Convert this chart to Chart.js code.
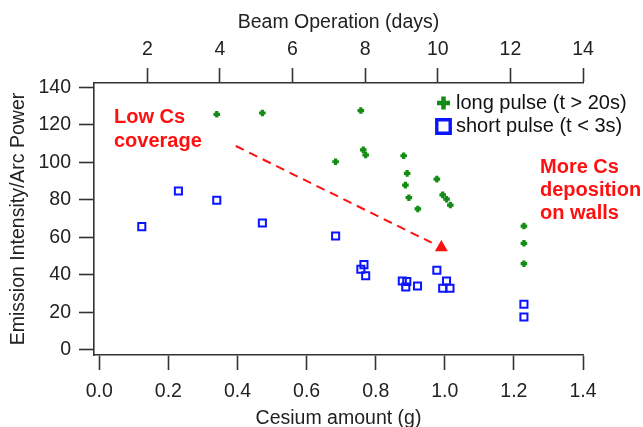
<!DOCTYPE html>
<html>
<head>
<meta charset="utf-8">
<script src="https://cdn.jsdelivr.net/npm/chart.js@4/dist/chart.umd.min.js"></script>
<style>
  html, body { margin: 0; padding: 0; background: #fff; }
  #chart { display: block; }
</style>
</head>
<body>
<canvas id="chart" width="643" height="427"></canvas>
<script>
// cesium amount (g) vs emission intensity / arc power
const long_x = [0.340, 0.472, 0.757, 0.684, 0.764, 0.771, 0.881, 0.891, 0.886, 0.896, 0.922, 0.977, 0.994, 1.005, 1.016, 1.229, 1.229, 1.229];
const long_y = [125.7, 126.4, 127.7, 100.4, 106.7, 104.0, 103.6, 94.2, 87.9, 81.2, 75.2, 91.1, 82.7, 80.4, 77.3, 66.1, 56.9, 46.0];

const short_x = [0.123, 0.229, 0.340, 0.472, 0.684, 0.766, 0.757, 0.771, 0.877, 0.890, 0.887, 0.921, 0.977, 1.005, 0.994, 1.015, 1.229, 1.229];
const short_y = [65.8, 84.8, 79.9, 67.7, 60.8, 45.5, 43.0, 39.6, 36.8, 36.5, 33.6, 34.1, 42.5, 36.8, 32.9, 32.9, 24.4, 17.6];

// dashed trend arrow
const arrow_x = [0.395, 0.962];
const arrow_y = [108.8, 57.2];
const arrow_head = [0.990, 54.7];

const x_ticks = [0.0, 0.2, 0.4, 0.6, 0.8, 1.0, 1.2, 1.4];
const day_ticks = [2, 4, 6, 8, 10, 12, 14];
const y_ticks = [0, 20, 40, 60, 80, 100, 120, 140];

const legend_labels = ["long pulse (t > 20s)", "short pulse (t < 3s)"];
const note_low = ["Low Cs", "coverage"];
const note_more = ["More Cs", "deposition", "on walls"];

const FONT = "'Liberation Sans', Arial, sans-serif";
const GREEN = "#138c13";
const BLUE = "#0a14ff";
const RED = "#ff1010";
const AXIS = "#333";

function pts(xs, ys) {
  return xs.map((x, i) => ({ x: x, y: ys[i] }));
}

function setTicks(list) {
  return function (scale) {
    scale.ticks = list.map((v) => ({ value: v }));
  };
}

const axisGrid = {
  drawOnChartArea: false,
  drawTicks: true,
  tickLength: 15,
  tickColor: AXIS,
  tickWidth: 1.6,
};
const axisBorder = { display: true, color: AXIS, width: 1.6 };
const tickFont = { family: FONT, size: 19.5 };

const notes = {
  id: "notes",
  afterDatasetsDraw(chart) {
    const ctx = chart.ctx;
    ctx.save();

    // red notes
    ctx.fillStyle = RED;
    ctx.font = "bold 20px " + FONT;
    ctx.textBaseline = "middle";
    ctx.textAlign = "left";
    note_low.forEach((t, i) => ctx.fillText(t, 114, 117 + i * 24));
    note_more.forEach((t, i) => ctx.fillText(t, 540, 167 + i * 23.3));

    // legend, drawn by hand so it can sit inside the plot
    const items = [
      { style: "cross", stroke: GREEN, fill: GREEN, r: 6.5, w: 4.5, y: 103 },
      { style: "rect", stroke: BLUE, fill: "#fff", r: 9.5, w: 3.4, y: 126.5 },
    ];
    ctx.font = "20px " + FONT;
    items.forEach((it, i) => {
      ctx.strokeStyle = it.stroke;
      ctx.fillStyle = it.fill;
      ctx.lineWidth = it.w;
      Chart.helpers.drawPoint(ctx, {
        pointStyle: it.style,
        radius: it.r,
        borderWidth: it.w,
        rotation: 0,
      }, 443.5, it.y);
      ctx.fillStyle = "#111";
      ctx.fillText(legend_labels[i], 456, it.y);
    });
    ctx.restore();
  },
};

new Chart(document.getElementById("chart"), {
  type: "scatter",
  data: {
    datasets: [
      {
        label: legend_labels[0],
        data: pts(long_x, long_y),
        pointStyle: "cross",
        pointRadius: 3.3,
        pointBorderWidth: 3.2,
        borderColor: GREEN,
        backgroundColor: GREEN,
      },
      {
        label: legend_labels[1],
        data: pts(short_x, short_y),
        pointStyle: "rect",
        pointRadius: 5,
        pointBorderWidth: 2,
        borderColor: BLUE,
        backgroundColor: "rgba(0,0,0,0)",
      },
      {
        type: "line",
        label: "trend",
        data: pts(arrow_x, arrow_y),
        borderColor: RED,
        borderWidth: 2,
        borderDash: [9, 6],
        pointRadius: 0,
      },
      {
        label: "head",
        data: [{ x: arrow_head[0], y: arrow_head[1] }],
        pointStyle: "triangle",
        pointRadius: 7.5,
        pointBorderWidth: 0,
        borderColor: RED,
        backgroundColor: RED,
      },
    ],
  },
  options: {
    responsive: false,
    devicePixelRatio: 1,
    animation: false,
    layout: { padding: { left: 0, right: 60, top: 0, bottom: 0 } },
    plugins: {
      legend: { display: false },
      tooltip: { enabled: false },
    },
    scales: {
      x: {
        type: "linear",
        position: "bottom",
        min: -0.0153,
        max: 1.4,
        afterBuildTicks: setTicks(x_ticks),
        afterFit: (s) => { s.height = 72; },
        grid: axisGrid,
        border: axisBorder,
        ticks: {
          font: tickFont,
          color: "#222",
          padding: 10,
          maxRotation: 0,
          callback: (v) => v.toFixed(1),
        },
        title: {
          display: true,
          text: "Cesium amount (g)",
          font: tickFont,
          color: "#222",
          padding: { top: 0, bottom: -3 },
        },
      },
      x2: {
        type: "linear",
        position: "top",
        min: 0.532,
        max: 14,
        afterBuildTicks: setTicks(day_ticks),
        afterFit: (s) => { s.height = 83; },
        grid: axisGrid,
        border: axisBorder,
        ticks: {
          font: tickFont,
          color: "#222",
          padding: 7,
          maxRotation: 0,
        },
        title: {
          display: true,
          text: "Beam Operation (days)",
          font: tickFont,
          color: "#222",
          padding: { top: 11, bottom: 0 },
        },
      },
      y: {
        type: "linear",
        position: "left",
        min: -2.7,
        max: 142.4,
        afterBuildTicks: setTicks(y_ticks),
        afterFit: (s) => { s.width = 94; },
        grid: axisGrid,
        border: axisBorder,
        ticks: {
          font: tickFont,
          color: "#222",
          padding: 8,
        },
        title: {
          display: true,
          text: "Emission Intensity/Arc Power",
          font: tickFont,
          color: "#222",
          padding: { top: 7, bottom: 0 },
        },
      },
    },
  },
  plugins: [notes],
});
</script>
</body>
</html>
